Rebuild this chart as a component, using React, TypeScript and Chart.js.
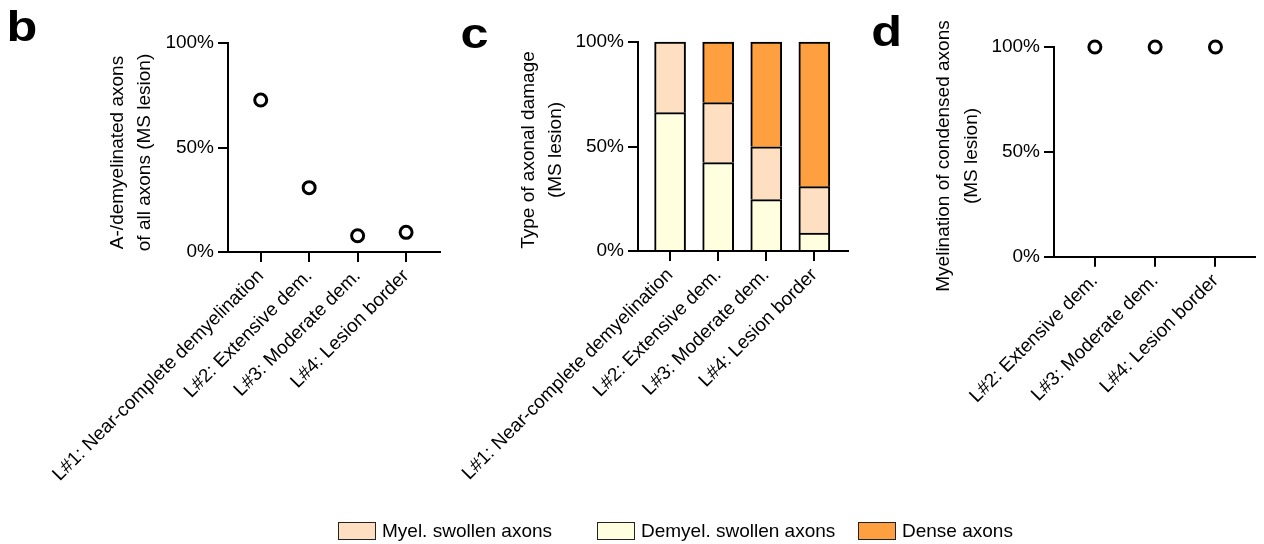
import { useEffect, useRef } from "react";
import { Chart, registerables } from "chart.js";

Chart.register(...registerables);

const W = 1264;
const H = 544;
const FONT = "'Liberation Sans', Arial, Helvetica, sans-serif";

// ---------- data ----------
const yTickValues = [0, 50, 100];

const bCategories = [
  "L#1: Near-complete demyelination",
  "L#2: Extensive dem.",
  "L#3: Moderate dem.",
  "L#4: Lesion border",
];
const bValues = [72.7, 30.8, 7.8, 9.4];

const cCategories = [
  "L#1: Near-complete demyelination",
  "L#2: Extensive dem.",
  "L#3: Moderate dem.",
  "L#4: Lesion border",
];
const cDemyel = [66.2, 42.3, 24.6, 8.6];
const cMyel = [33.8, 28.7, 25.3, 22.2];
const cDense = [0, 29.0, 50.1, 69.2];

const dCategories = ["L#2: Extensive dem.", "L#3: Moderate dem.", "L#4: Lesion border"];
const dValues = [100, 100, 100];

const seriesNames = ["Myel. swollen axons", "Demyel. swollen axons", "Dense axons"];
const seriesColors = ["#FFDFC2", "#FFFFE0", "#FFA040"];

const bTitle = ["A-/demyelinated axons", "of all axons (MS lesion)"];
const cTitle = ["Type of axonal damage", "(MS lesion)"];
const dTitle = ["Myelination of condensed axons", "(MS lesion)"];

// ---------- layout (page pixel coordinates) ----------
type Panel = {
  letter: string;
  letterX: number;
  letterY: number;
  boxLeft: number;
  left: number;
  right: number;
  top: number;
  bottom: number;
  xMin: number;
  xMax: number;
  title: string[];
  titleX: number[];
  titleCY: number;
};

const panelB: Panel = {
  letter: "b", letterX: 6.4, letterY: 40.8,
  boxLeft: 100, left: 228, right: 440, top: 43, bottom: 252,
  xMin: 0.325, xMax: 4.7,
  title: bTitle, titleX: [118, 145], titleCY: 152.5,
};
const panelC: Panel = {
  letter: "c", letterX: 460.4, letterY: 47.5,
  boxLeft: 510, left: 638, right: 848, top: 42, bottom: 251,
  xMin: 0.333, xMax: 4.7,
  title: cTitle, titleX: [528.5, 555.5], titleCY: 150,
};
const panelD: Panel = {
  letter: "d", letterX: 871.3, letterY: 45.5,
  boxLeft: 930, left: 1054, right: 1264, top: 47, bottom: 256.7,
  xMin: 0.322, xMax: 3.656,
  title: dTitle, titleX: [944, 972], titleCY: 156,
};

const legendLefts = [338, 597, 858];

function makeTextPlugin(p: Panel) {
  return {
    id: "panelText" + p.letter,
    afterDraw(chart: any) {
      const ctx = chart.ctx as CanvasRenderingContext2D;
      ctx.save();
      ctx.fillStyle = "#000";
      ctx.font = `bold 42px ${FONT}`;
      ctx.textAlign = "left";
      ctx.textBaseline = "alphabetic";
      ctx.save();
      ctx.translate(p.letterX, p.letterY);
      ctx.scale(1.2, 1);
      ctx.fillText(p.letter, 0, 0);
      ctx.restore();
      ctx.font = `19px ${FONT}`;
      ctx.textAlign = "center";
      ctx.textBaseline = "middle";
      p.title.forEach((line, i) => {
        ctx.save();
        ctx.translate(p.titleX[i], p.titleCY);
        ctx.rotate(-Math.PI / 2);
        ctx.fillText(line, 0, 0);
        ctx.restore();
      });
      ctx.restore();
    },
  };
}

function makeOptions(p: Panel, categories: string[], stacked: boolean) {
  const gridOpts = {
    display: true,
    drawOnChartArea: false,
    drawTicks: true,
    tickLength: 10,
    tickWidth: 2,
    tickColor: "#000",
    color: "#000",
    lineWidth: 2,
    offset: false,
  };
  const tickFont = { family: FONT, size: 19 };
  return {
    responsive: false,
    animation: false as const,
    events: [],
    layout: { padding: { left: p.boxLeft, top: p.top, right: W - p.right, bottom: 0 } },
    plugins: { legend: { display: false }, tooltip: { enabled: false }, title: { display: false } },
    scales: {
      x: {
        type: "linear" as const,
        min: p.xMin,
        max: p.xMax,
        offset: false,
        stacked,
        afterBuildTicks: (s: any) => {
          s.ticks = categories.map((_, i) => ({ value: i + 1 }));
        },
        afterFit: (s: any) => {
          s.height = H - p.bottom;
          s.paddingLeft = 0;
          s.paddingRight = 0;
        },
        ticks: {
          autoSkip: false,
          maxRotation: 45,
          minRotation: 45,
          padding: 3,
          color: "#000",
          font: tickFont,
          callback: (v: any) => categories[Math.round(Number(v)) - 1] ?? "",
        },
        grid: gridOpts,
        border: { display: true, color: "#000", width: 2 },
      },
      y: {
        type: "linear" as const,
        min: 0,
        max: 100,
        stacked,
        afterBuildTicks: (s: any) => {
          s.ticks = yTickValues.map((v) => ({ value: v }));
        },
        afterFit: (s: any) => {
          s.width = p.left - p.boxLeft;
          s.paddingTop = 0;
          s.paddingBottom = 0;
        },
        ticks: {
          padding: 4,
          color: "#000",
          font: tickFont,
          callback: (v: any) => `${v}%`,
        },
        grid: gridOpts,
        border: { display: true, color: "#000", width: 2 },
      },
    },
  };
}

function scatterDataset(values: number[]) {
  return {
    data: values.map((v, i) => ({ x: i + 1, y: v })),
    pointRadius: 6,
    pointHoverRadius: 6,
    pointBorderWidth: 3,
    pointBorderColor: "#000",
    pointBackgroundColor: "#fff",
    showLine: false,
    clip: false as const,
  };
}

function barDataset(label: string, values: number[], color: string) {
  return {
    label,
    data: values.map((v, i) => ({ x: i + 1, y: v })),
    backgroundColor: color,
    borderColor: "#000",
    borderWidth: 2,
    barThickness: 31,
    clip: false as const,
  };
}

function useChart(build: () => any) {
  const ref = useRef<HTMLCanvasElement | null>(null);
  useEffect(() => {
    if (!ref.current) return;
    const chart = new Chart(ref.current, build());
    return () => chart.destroy();
  }, []);
  return ref;
}

const canvasStyle: React.CSSProperties = {
  position: "absolute",
  left: 0,
  top: 0,
  width: W,
  height: H,
};

export default function App() {
  const refB = useChart(() => ({
    type: "scatter",
    data: { datasets: [scatterDataset(bValues)] },
    options: makeOptions(panelB, bCategories, false),
    plugins: [makeTextPlugin(panelB)],
  }));
  const refC = useChart(() => ({
    type: "bar",
    data: {
      datasets: [
        barDataset(seriesNames[1], cDemyel, seriesColors[1]),
        barDataset(seriesNames[0], cMyel, seriesColors[0]),
        barDataset(seriesNames[2], cDense, seriesColors[2]),
      ],
    },
    options: makeOptions(panelC, cCategories, true),
    plugins: [makeTextPlugin(panelC)],
  }));
  const refD = useChart(() => ({
    type: "scatter",
    data: { datasets: [scatterDataset(dValues)] },
    options: makeOptions(panelD, dCategories, false),
    plugins: [makeTextPlugin(panelD)],
  }));

  return (
    <div style={{ position: "absolute", left: 0, top: 0, width: W, height: H, background: "#fff", overflow: "hidden" }}>
      <canvas ref={refB} width={W} height={H} style={canvasStyle} />
      <canvas ref={refC} width={W} height={H} style={canvasStyle} />
      <canvas ref={refD} width={W} height={H} style={canvasStyle} />
      {seriesNames.map((name, i) => (
        <div
          key={name}
          style={{
            position: "absolute",
            left: legendLefts[i],
            top: 522,
            display: "flex",
            alignItems: "center",
            fontFamily: FONT,
            fontSize: 19,
            lineHeight: "18px",
            color: "#000",
            whiteSpace: "nowrap",
          }}
        >
          <span
            style={{
              display: "inline-block",
              width: 38,
              height: 18,
              boxSizing: "border-box",
              border: "1.5px solid #222",
              background: seriesColors[i],
            }}
          />
          <span style={{ marginLeft: 6 }}>{name}</span>
        </div>
      ))}
    </div>
  );
}
